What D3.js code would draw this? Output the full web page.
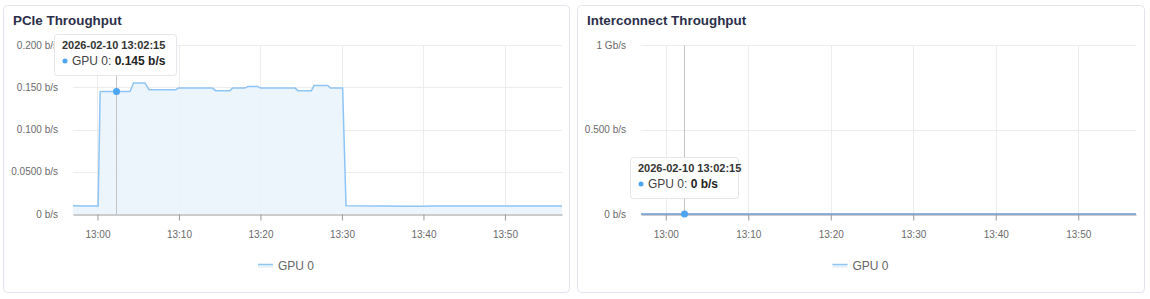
<!DOCTYPE html>
<html>
<head>
<meta charset="utf-8">
<script src="https://cdn.jsdelivr.net/npm/d3@7"></script>
<style>
  body { margin: 0; background: #fff; font-family: "Liberation Sans", Arial, sans-serif; }
  svg { display: block; }
</style>
</head>
<body>
<svg id="chart" width="1150" height="299"></svg>
<script>
'use strict';

// ---------------------------------------------------------------
// data
// ---------------------------------------------------------------
var seriesName = 'GPU 0';
var hoverTime = '13:02:15';

// PCIe throughput, change points
var pcieTimes = ['12:57:00', '12:58:30', '13:00:05', '13:00:20', '13:04:00', '13:04:25',
    '13:05:50', '13:06:20', '13:09:35', '13:09:55', '13:14:05', '13:14:30', '13:16:15',
    '13:16:35', '13:18:05', '13:18:30', '13:19:40', '13:20:00', '13:24:15', '13:24:35',
    '13:26:15', '13:26:35', '13:28:15', '13:28:35', '13:30:05', '13:30:30', '13:35:00',
    '13:38:00', '13:40:00', '13:41:00', '13:50:00', '13:57:00'];
var pcieValues = [0.0098, 0.0096, 0.0095, 0.145, 0.145, 0.155,
    0.155, 0.147, 0.147, 0.149, 0.149, 0.146, 0.146,
    0.149, 0.149, 0.151, 0.151, 0.149, 0.149, 0.146,
    0.146, 0.152, 0.152, 0.149, 0.149, 0.0098, 0.0096,
    0.0093, 0.0092, 0.0096, 0.0095, 0.0095];
var pcieTicks = [0, 0.05, 0.1, 0.15, 0.2];
var pcieTickLabels = ['0 b/s', '0.0500 b/s', '0.100 b/s', '0.150 b/s', '0.200 b/s'];
var pcieHoverLabel = '0.145 b/s';

// Interconnect throughput, flat zero
var linkTimes = ['12:57:00', '13:57:00'];
var linkValues = [0, 0];
var linkTicks = [0, 0.5, 1];
var linkTickLabels = ['0 b/s', '0.500 b/s', '1 Gb/s'];
var linkHoverLabel = '0 b/s';

var xTicks = ['13:00', '13:10', '13:20', '13:30', '13:40', '13:50'];
var domainStart = '12:57:00', domainEnd = '13:57:00';

var parseT = d3.timeParse('%Y-%m-%d %H:%M:%S');
function toDate(s) {
    if (s.length === 5) s = s + ':00';
    return parseT('2026-02-10 ' + s);
}

var svg = d3.select('#chart');

// ---------------------------------------------------------------
// one panel
// ---------------------------------------------------------------
function drawPanel(cfg) {
    var g = svg.append('g');

    g.append('rect')
        .attr('x', cfg.px + 0.5).attr('y', 5.5)
        .attr('width', cfg.pw).attr('height', 287)
        .attr('rx', 4)
        .attr('fill', '#fff')
        .attr('stroke', '#e1e5eb');

    g.append('text')
        .attr('x', cfg.px + 10).attr('y', 25)
        .attr('font-size', 13.4).attr('font-weight', 'bold')
        .attr('fill', '#2b2f4a')
        .text(cfg.title);

    var data = cfg.times.map(function(t, i) {
        return { t: toDate(t), v: cfg.values[i] };
    });

    var x = d3.scaleTime()
        .domain([toDate(domainStart), toDate(domainEnd)])
        .range([cfg.left, cfg.right]);
    var y = d3.scaleLinear()
        .domain([0, cfg.ticks[cfg.ticks.length - 1]])
        .range([214, 45]);

    // horizontal grid
    g.append('g').selectAll('line')
        .data(cfg.ticks.slice(1))
        .enter().append('line')
        .attr('x1', cfg.left).attr('x2', cfg.right)
        .attr('y1', function(d) { return Math.round(y(d)) + 0.5; })
        .attr('y2', function(d) { return Math.round(y(d)) + 0.5; })
        .attr('stroke', '#ececec');

    // vertical grid
    g.append('g').selectAll('line')
        .data(xTicks)
        .enter().append('line')
        .attr('x1', function(d) { return Math.round(x(toDate(d))) + 0.5; })
        .attr('x2', function(d) { return Math.round(x(toDate(d))) + 0.5; })
        .attr('y1', 45).attr('y2', 214)
        .attr('stroke', '#ececec');

    // y labels
    g.append('g').selectAll('text')
        .data(cfg.ticks)
        .enter().append('text')
        .attr('x', cfg.left - 15)
        .attr('y', function(d) { return y(d) + 3.5; })
        .attr('text-anchor', 'end')
        .attr('font-size', 10).attr('fill', '#6a6a6a')
        .text(function(d, i) { return cfg.tickLabels[i]; });

    // x axis
    var xAxis = d3.axisBottom(x)
        .tickValues(xTicks.map(toDate))
        .tickFormat(d3.timeFormat('%H:%M'))
        .tickSize(6).tickSizeOuter(0).tickPadding(10);
    var ax = g.append('g')
        .attr('transform', 'translate(0,214.5)')
        .call(xAxis);
    ax.select('.domain').attr('stroke', '#999');
    ax.selectAll('.tick line').attr('stroke', '#999');
    ax.selectAll('.tick text').attr('font-size', 10).attr('fill', '#6a6a6a')
        .attr('font-family', '"Liberation Sans", Arial, sans-serif');

    // area + line
    var area = d3.area()
        .x(function(d) { return x(d.t); })
        .y0(y(0)).y1(function(d) { return y(d.v); });
    var line = d3.line()
        .x(function(d) { return x(d.t); })
        .y(function(d) { return y(d.v); });

    g.append('path').datum(data)
        .attr('d', area)
        .attr('fill', '#eaf3fc').attr('fill-opacity', 0.9);
    g.append('path').datum(data)
        .attr('d', line)
        .attr('fill', 'none')
        .attr('stroke', cfg.lineColor).attr('stroke-width', 1.5);

    // crosshair
    var hx = Math.round(x(toDate(hoverTime))) + 0.5;
    g.append('line')
        .attr('x1', hx).attr('x2', hx)
        .attr('y1', 45).attr('y2', 214)
        .attr('stroke', '#c4c4c4');

    var hv = d3.bisector(function(d) { return d.t; }).right(data, toDate(hoverTime)) - 1;
    g.append('circle')
        .attr('cx', hx).attr('cy', y(data[hv].v))
        .attr('r', 3.5)
        .attr('fill', '#4ea5f2');

    // tooltip
    var tip = g.append('g').attr('transform', 'translate(' + cfg.tipX + ',' + cfg.tipY + ')');
    tip.append('rect')
        .attr('x', 0.5).attr('y', 0.5)
        .attr('width', cfg.tipW).attr('height', 41)
        .attr('rx', 3)
        .attr('fill', 'rgba(255,255,255,0.95)')
        .attr('stroke', '#e3e6ea');
    tip.append('text')
        .attr('x', 8).attr('y', 15)
        .attr('font-size', 11).attr('font-weight', 'bold').attr('fill', '#333')
        .text('2026-02-10 ' + hoverTime);
    tip.append('circle')
        .attr('cx', 11).attr('cy', 27).attr('r', 2.5)
        .attr('fill', '#4ea5f2');
    var t2 = tip.append('text')
        .attr('x', 18).attr('y', 31)
        .attr('font-size', 12).attr('fill', '#444');
    t2.append('tspan').text(seriesName + ': ');
    t2.append('tspan').attr('font-weight', 'bold').attr('fill', '#222').text(cfg.hoverLabel);

    // legend
    var lx = cfg.px + (cfg.pw / 2) - 28;
    g.append('rect')
        .attr('x', lx).attr('y', 264)
        .attr('width', 15).attr('height', 4)
        .attr('fill', '#eaf3fc');
    g.append('line')
        .attr('x1', lx).attr('x2', lx + 15)
        .attr('y1', 264.5).attr('y2', 264.5)
        .attr('stroke', '#8ec5f5').attr('stroke-width', 1.5);
    g.append('text')
        .attr('x', lx + 20).attr('y', 270)
        .attr('font-size', 12).attr('fill', '#666')
        .text(seriesName);
}

drawPanel({
    title: 'PCIe Throughput',
    px: 3, pw: 566,
    left: 73, right: 562,
    times: pcieTimes, values: pcieValues,
    ticks: pcieTicks, tickLabels: pcieTickLabels,
    hoverLabel: pcieHoverLabel,
    lineColor: '#8ec5f5',
    tipX: 54, tipY: 34, tipW: 122
});

drawPanel({
    title: 'Interconnect Throughput',
    px: 577, pw: 567,
    left: 641, right: 1136,
    times: linkTimes, values: linkValues,
    ticks: linkTicks, tickLabels: linkTickLabels,
    hoverLabel: linkHoverLabel,
    lineColor: '#6d9bd6',
    tipX: 630, tipY: 157, tipW: 108
});
</script>
</body>
</html>
